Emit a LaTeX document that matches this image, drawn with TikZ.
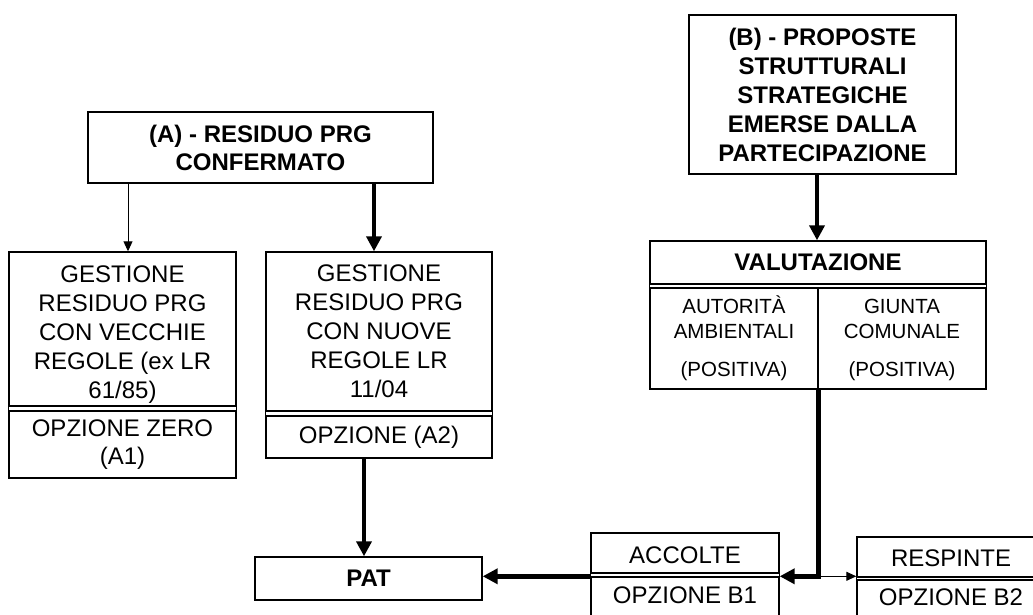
\documentclass[tikz,border=0pt]{standalone}
\usepackage{fontspec}
\setmainfont{Liberation Sans}
\usetikzlibrary{arrows.meta}
\tikzset{
  box/.style={draw, line width=1.4pt, inner sep=0pt, align=center, font=\fontsize{24}{29}\selectfont},
  tbox/.style={box, font=\fontsize{24}{28}\selectfont\bfseries},
  sbox/.style={box, font=\fontsize{20.5}{25}\selectfont},
  thickarr/.style={line width=4.5pt, -{Triangle[length=15pt,width=15pt]}},
  thinarr/.style={line width=1pt, -{Triangle[length=10pt,width=9pt]}},
  frame/.style={line width=1.4pt}
}
\begin{document}
\begin{tikzpicture}[x=1pt,y=-1pt]
\clip (0,0) rectangle (1033,615);
\fill[white] (0,0) rectangle (1033,615);

% (A)
\node[tbox, minimum width=345pt, minimum height=71pt] (A) at (260.5,147.5)
  {(A) - RESIDUO PRG\\CONFERMATO};

% left column
\node[box, minimum width=227pt, minimum height=154pt] (G1t) at (122.5,329)
  {\rule{0pt}{22pt}GESTIONE\\RESIDUO PRG\\CON VECCHIE\\REGOLE (ex LR\\\raisebox{0pt}[\height][0pt]{61/85)}};
\node[box, font=\fontsize{24}{28}\selectfont, minimum width=227pt, minimum height=67pt] (G1b) at (122.5,444.5)
  {OPZIONE ZERO\\(A1)};
\draw[frame] (G1t.south west) -- (G1b.north west) (G1t.south east) -- (G1b.north east);

% middle column
\node[box, minimum width=226pt, minimum height=159pt] (G2t) at (379,331.5)
  {GESTIONE\\RESIDUO PRG\\CON NUOVE\\REGOLE LR\\11/04};
\node[box, minimum width=226pt, minimum height=42pt] (G2b) at (379,437)
  {OPZIONE (A2)};
\draw[frame] (G2t.south west) -- (G2b.north west) (G2t.south east) -- (G2b.north east);

% PAT
\node[tbox, minimum width=227pt, minimum height=43pt] (PAT) at (368.5,578.5) {PAT};

% (B)
\node[tbox, font=\fontsize{24}{29}\selectfont\bfseries, minimum width=267pt, minimum height=159pt] (B) at (822.5,94.5)
  {(B) - PROPOSTE\\STRUTTURALI\\STRATEGICHE\\EMERSE DALLA\\PARTECIPAZIONE};

% VALUTAZIONE
\node[tbox, minimum width=336pt, minimum height=43pt] (VAL) at (818,262.5) {VALUTAZIONE};
\node[sbox, minimum width=168pt, minimum height=101pt] (VL) at (734,338.5)
  {AUTORIT\`A\\AMBIENTALI\\[13pt](POSITIVA)};
\node[sbox, minimum width=168pt, minimum height=101pt] (VR) at (902,338.5)
  {\vphantom{\`A}GIUNTA\\COMUNALE\\[13pt](POSITIVA)};
\draw[frame] (VAL.south west) -- (VL.north west) (VAL.south east) -- (VR.north east);

% ACCOLTE
\node[box, text height=22pt, minimum width=188pt, minimum height=40pt] (ACCt) at (685,553) {ACCOLTE};
\node[box, minimum width=188pt, minimum height=60pt] (ACCb) at (685,607) {};
\node[anchor=base, inner sep=0pt, font=\fontsize{24}{29}\selectfont] (ACCbt) at (685,603) {OPZIONE B1};
\draw[frame] (ACCt.south west) -- (ACCb.north west) (ACCt.south east) -- (ACCb.north east);

% RESPINTE
\node[box, text height=20pt, minimum width=188pt, minimum height=40pt] (RESt) at (951,557) {RESPINTE};
\node[box, minimum width=188pt, minimum height=60pt] (RESb) at (951,610) {};
\node[anchor=base, inner sep=0pt, font=\fontsize{24}{29}\selectfont] (RESbt) at (951,605) {OPZIONE B2};
\draw[frame] (RESt.south west) -- (RESb.north west) (RESt.south east) -- (RESb.north east);

% connectors
\draw[thinarr] ([xshift=5.5pt]G1t.north |- A.south) -- ([xshift=5.5pt]G1t.north);
\draw[thickarr] ([xshift=-5pt]G2t.north |- A.south) -- ([xshift=-5pt]G2t.north);
\draw[thickarr] ([xshift=-1pt]VAL.north |- B.south) -- ([xshift=-1pt]VAL.north);
\draw[thickarr] ([xshift=-4.5pt]PAT.north |- G2b.south) -- ([xshift=-4.5pt]PAT.north);
\coordinate (J) at (VL.south east |- ACCb.north east);
\draw[thickarr, line join=miter] (VL.south east) -- (J) -- (J -| ACCb.north east);
\draw[thinarr] (J) -- (J -| RESt.south west);
\draw[thickarr] (ACCb.north west) -- (ACCb.north west -| PAT.east);
\end{tikzpicture}
\end{document}
